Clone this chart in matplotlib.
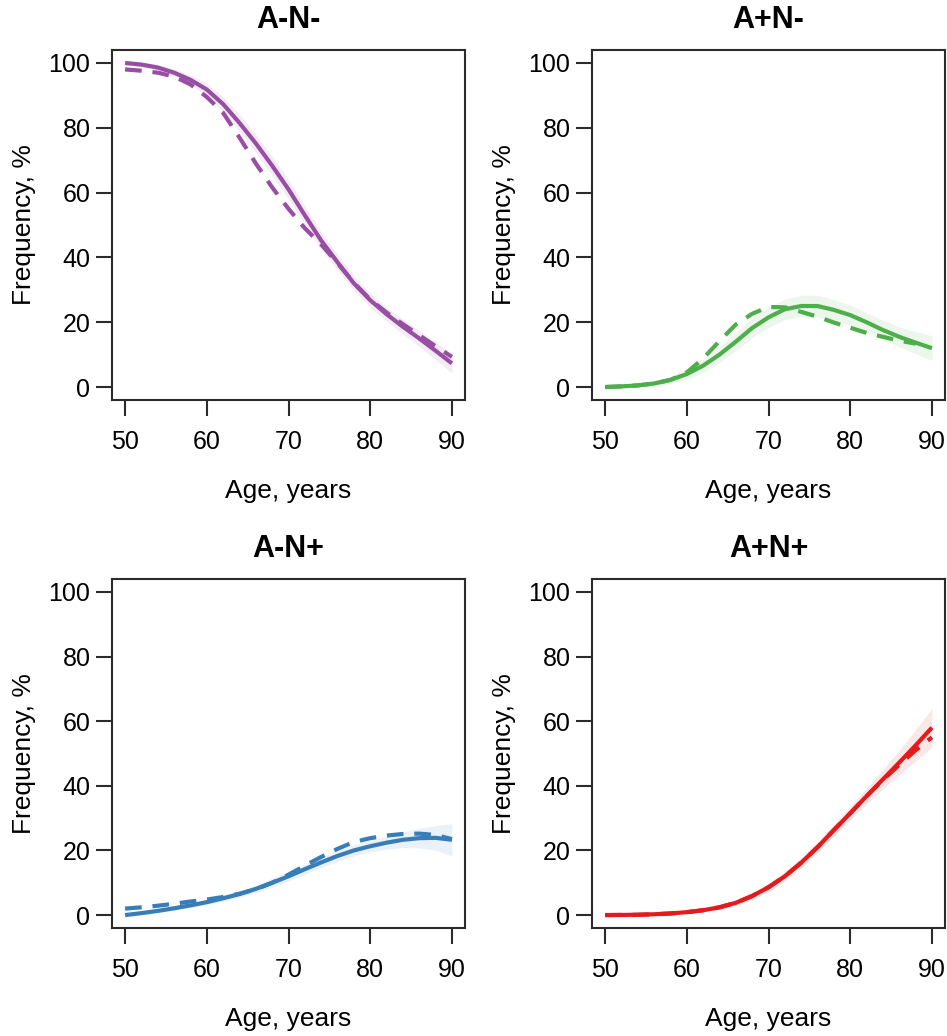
import matplotlib
matplotlib.use("Agg")
import matplotlib.pyplot as plt
import numpy as np

plt.rcParams['font.family'] = ['Liberation Sans', 'DejaVu Sans']

ages = [50, 52, 54, 56, 58, 60, 62, 64, 66, 68, 70, 72, 74, 76, 78, 80, 82, 84, 86, 88, 90]

panel_titles = ['A-N-', 'A+N-', 'A-N+', 'A+N+']
panel_colors = ['#984EA3', '#4DAF4A', '#377EB8', '#E41A1C']

# A-N-  (fit = solid, obs = dashed, band = half width of the shaded band)
amnm_fit = [100, 99.5, 98.6, 97, 94.8, 91.8, 87.3, 81.5, 75.2, 68.3, 61, 53, 45.2, 38.5, 32, 26.8, 22.5, 18.6, 15, 11.2, 7.3]
amnm_obs = [98, 97.6, 97, 95.8, 93.4, 89.5, 84.6, 77, 69, 61.6, 55, 49, 44, 38.2, 32.2, 27, 23, 19.4, 16, 12.6, 9.3]
amnm_band = [0.6, 0.7, 0.9, 1.1, 1.5, 1.9, 2.3, 2.6, 2.8, 3, 3, 2.9, 2.7, 2.5, 2.3, 2.2, 2.2, 2.3, 2.5, 2.7, 3]

# A+N-
apnm_fit = [0, 0.2, 0.5, 1.1, 2.2, 4, 6.6, 10, 14, 18.2, 21.5, 24, 25, 25, 23.8, 22.2, 20, 17.6, 15.5, 13.7, 12]
apnm_obs_ages = [50, 52, 54, 56, 58, 60, 62, 64, 66, 68, 70, 72, 74, 76, 78, 80, 82, 84, 86, 88]
apnm_obs = [0, 0.2, 0.5, 1.1, 2.2, 4.5, 8.8, 14.2, 19.3, 22.6, 24.7, 24.6, 23.2, 21.7, 19.9, 18.3, 16.7, 15.5, 14.3, 13.4]
apnm_band = [0.1, 0.2, 0.4, 0.7, 1.1, 1.6, 2.1, 2.5, 2.8, 3, 3.1, 3.2, 3.3, 3.3, 3.2, 3.1, 3, 3, 3.1, 3.4, 3.8]

# A-N+
amnp_fit = [0, 0.6, 1.3, 2.1, 3, 4, 5.2, 6.5, 8.1, 10, 12, 14.2, 16.3, 18.3, 20, 21.3, 22.4, 23.3, 23.8, 23.9, 23.3]
amnp_obs = [2, 2.4, 2.9, 3.5, 4.2, 4.8, 5.6, 6.6, 8, 10, 12.5, 15.3, 18, 20.5, 22.6, 23.8, 24.6, 25.1, 25.2, 24.8, 23.5]
amnp_band = [0.3, 0.4, 0.5, 0.6, 0.7, 0.8, 0.9, 1.1, 1.2, 1.4, 1.5, 1.6, 1.6, 1.7, 1.7, 1.8, 2, 2.4, 3, 3.8, 5]

# A+N+
apnp_fit = [0, 0.04, 0.1, 0.25, 0.5, 0.9, 1.5, 2.4, 3.8, 5.9, 8.6, 12, 16.2, 21, 26.3, 31.5, 36.8, 42, 47.2, 52.5, 58]
apnp_obs = [0, 0.04, 0.1, 0.25, 0.5, 0.9, 1.5, 2.4, 3.8, 5.9, 8.6, 12, 16.2, 21, 26.3, 31.5, 36.8, 41.8, 46.5, 51, 55]
apnp_band = [0.05, 0.05, 0.1, 0.15, 0.2, 0.3, 0.4, 0.6, 0.8, 1, 1.3, 1.4, 1.5, 1.7, 1.9, 2.1, 2.5, 3, 3.8, 4.8, 6]

panel_data = [
    (amnm_fit, amnm_band, ages, amnm_obs),
    (apnm_fit, apnm_band, apnm_obs_ages, apnm_obs),
    (amnp_fit, amnp_band, ages, amnp_obs),
    (apnp_fit, apnp_band, ages, apnp_obs),
]

x_ticks = [50, 60, 70, 80, 90]
y_ticks = [0, 20, 40, 60, 80, 100]

W, H = 947, 1036
fig = plt.figure(figsize=(W / 100, H / 100), dpi=100)

# axes boxes in pixels: left, top, right, bottom
boxes = [(112, 50, 465, 400), (592, 50, 945, 400),
         (112, 579, 465, 928), (592, 579, 945, 928)]

box_color = '#2b2b2b'

for i in range(4):
    l, t, r, b = boxes[i]
    ax = fig.add_axes([l / W, 1 - b / H, (r - l) / W, (b - t) / H])
    fit, band, obs_x, obs_y = panel_data[i]
    col = panel_colors[i]

    fit = np.array(fit)
    band = np.array(band)
    ax.fill_between(ages, fit - band, fit + band, color=col, alpha=0.1, linewidth=0)
    ax.plot(ages, fit, color=col, lw=3, solid_capstyle='butt', solid_joinstyle='round')
    ax.plot(obs_x, obs_y, color=col, lw=3, dashes=(4, 2.6), dash_capstyle='butt')

    ax.set_xlim(48.4, 91.6)
    ax.set_ylim(-4, 104)
    ax.set_xticks(x_ticks)
    ax.set_yticks(y_ticks)
    for s in ax.spines.values():
        s.set_color(box_color)
        s.set_linewidth(1.5)
    ax.tick_params(axis='both', direction='out', length=11.5, width=1.5,
                   color=box_color, labelsize=18, labelcolor='black')
    ax.tick_params(axis='x', pad=10)
    ax.tick_params(axis='y', pad=4)
    ax.set_xlabel('Age, years', fontsize=19, labelpad=18)
    ax.set_ylabel('Frequency, %', fontsize=19, labelpad=9)
    ax.set_title(panel_titles[i], fontsize=22, fontweight='bold', pad=16)

fig.savefig('out.png', dpi=100)
